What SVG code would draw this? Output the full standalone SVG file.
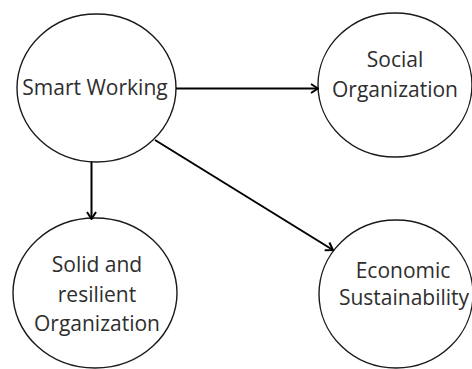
<svg xmlns="http://www.w3.org/2000/svg" width="472" height="369" viewBox="0 0 472 369">
  <style>
    .node ellipse { fill: #ffffff; stroke: #1a1a1a; stroke-width: 1.4; }
    .node text { font-family: "Open Sans", "Noto Sans", sans-serif; font-size: 21px; fill: #2e2e2e; text-anchor: middle; }
    .edge { stroke: #000000; stroke-width: 2; fill: none; marker-end: url(#arrow); }
  </style>
  <defs>
    <marker id="arrow" viewBox="0 0 12 12" refX="11" refY="6" markerWidth="12" markerHeight="12" markerUnits="userSpaceOnUse" orient="auto">
      <path d="M4,1.5 L11,6 L4,10.5" fill="none" stroke="#000000" stroke-width="2"/>
    </marker>
  </defs>
  <rect width="472" height="369" fill="#ffffff"/>

  <g id="smart-working" class="node">
    <ellipse cx="96.5" cy="88" rx="79.5" ry="74"/>
    <text x="95" y="95">Smart Working</text>
  </g>

  <g id="social-organization" class="node">
    <ellipse cx="395" cy="85" rx="77" ry="72"/>
    <text x="395" y="67">Social</text>
    <text x="395" y="97">Organization</text>
  </g>

  <g id="solid-resilient-organization" class="node">
    <ellipse cx="95" cy="293" rx="82" ry="75"/>
    <text x="97" y="272">Solid and</text>
    <text x="97" y="302">resilient</text>
    <text x="97" y="331">Organization</text>
  </g>

  <g id="economic-sustainability" class="node">
    <ellipse cx="396" cy="294" rx="77" ry="74"/>
    <text x="403" y="278">Economic</text>
    <text x="404" y="305">Sustainability</text>
  </g>

  <g id="connectors">
    <line class="edge" x1="176" y1="88.5" x2="318" y2="88.5"/>
    <line class="edge" x1="91.5" y1="162" x2="91.5" y2="219"/>
    <line class="edge" x1="155" y1="140" x2="333" y2="250"/>
  </g>
</svg>
